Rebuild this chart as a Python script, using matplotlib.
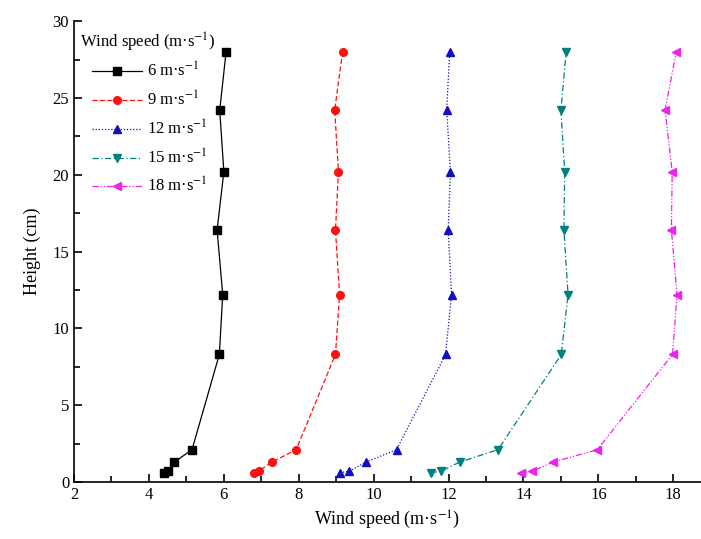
import numpy as np
import matplotlib
matplotlib.use("Agg")
import matplotlib.pyplot as plt
from matplotlib.ticker import MultipleLocator

# heights (cm), bottom to top
height = [0.6, 0.7, 1.3, 2.1, 8.3, 12.2, 16.4, 20.2, 24.2, 28.0]

# wind speed profiles (m/s)
ws_6 = [4.41, 4.50, 4.68, 5.15, 5.88, 5.97, 5.82, 6.00, 5.89, 6.06]
ws_9 = [6.81, 6.93, 7.29, 7.93, 8.98, 9.09, 8.98, 9.06, 8.96, 9.17]
ws_12 = [9.10, 9.35, 9.80, 10.61, 11.92, 12.08, 11.99, 12.05, 11.95, 12.03]
ws_15 = [11.52, 11.80, 12.30, 13.32, 15.01, 15.19, 15.08, 15.10, 15.00, 15.14]
ws_18 = [13.94, 14.22, 14.80, 15.97, 17.98, 18.10, 17.95, 17.97, 17.78, 18.08]

labels = ['6 m·s$^{-1}$', '9 m·s$^{-1}$', '12 m·s$^{-1}$', '15 m·s$^{-1}$', '18 m·s$^{-1}$']

plt.rcParams['font.family'] = ['Liberation Serif', 'DejaVu Serif']
plt.rcParams['mathtext.fontset'] = 'stix'

fig = plt.figure(figsize=(7.01, 5.39), dpi=100)
ax = fig.add_axes([0.1056, 0.1058, 0.8944, 0.855])

# series styles
styles = [
    dict(color='black', ls='-', marker='s'),
    dict(color='#ff1010', ls=(0, (4, 2)), marker='o'),
    dict(color='#1010c0', ls=(0, (1, 1.5)), marker='^'),
    dict(color='#008080', ls=(0, (5, 2, 1, 2)), marker='v'),
    dict(color='#ee22ee', ls=(0, (5, 1.5, 1, 1.5, 1, 1.5)), marker='<'),
]

for ws, lab, st in zip([ws_6, ws_9, ws_12, ws_15, ws_18], labels, styles):
    ax.plot(ws, height, color=st['color'], linestyle=st['ls'], marker=st['marker'],
            markersize=5.5, linewidth=0.9, label=lab)

ax.set_xlim(2, 18.74)
ax.set_ylim(0, 30)
ax.xaxis.set_major_locator(MultipleLocator(2))
ax.xaxis.set_minor_locator(MultipleLocator(1))
ax.yaxis.set_major_locator(MultipleLocator(5))
ax.yaxis.set_minor_locator(MultipleLocator(2.5))
ax.tick_params(which='both', direction='in', labelsize=12, width=1.2)
ax.tick_params(which='major', length=6)
ax.tick_params(which='minor', length=4)
ax.spines['top'].set_visible(False)
ax.spines['right'].set_visible(False)
ax.spines['left'].set_linewidth(1.2)
ax.spines['bottom'].set_linewidth(1.2)

ax.set_xlabel('Wind speed (m·s$^{-1}$)', fontsize=13, labelpad=4)
ax.set_ylabel('Height (cm)', fontsize=13, labelpad=8)

# legend title drawn as text so the entries can sit indented under it
ax.text(0.01, 0.954, 'Wind speed (m·s$^{-1}$)', transform=ax.transAxes,
        fontsize=12, ha='left', va='center')
leg = ax.legend(loc='upper left', bbox_to_anchor=(0.028, 0.912),
                frameon=False, fontsize=12, labelspacing=0.58,
                handlelength=3.0, handletextpad=0.3, borderaxespad=0, borderpad=0)

plt.savefig('out.png', dpi=100)
